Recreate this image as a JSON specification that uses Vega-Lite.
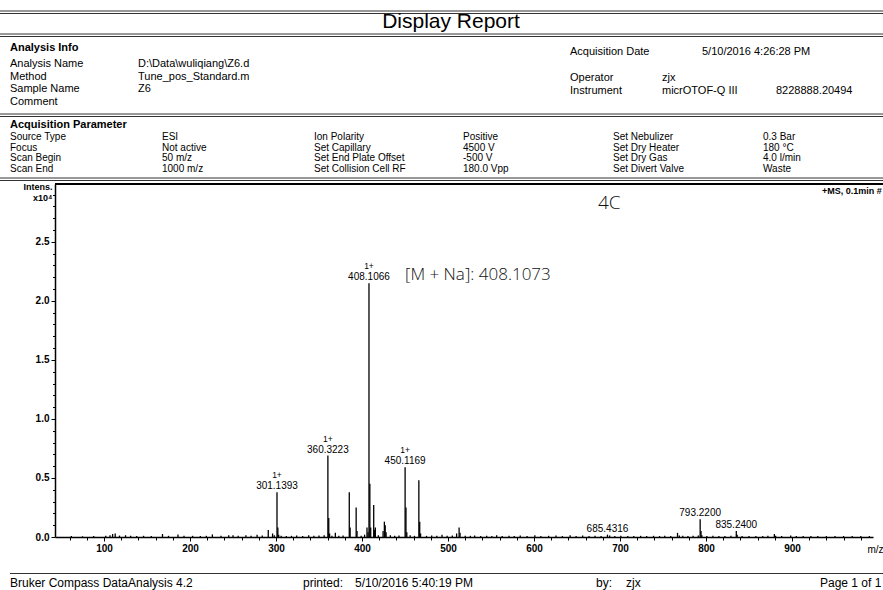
{
  "$schema": "https://vega.github.io/schema/vega-lite/v6.json",
  "autosize": {"type": "none"},
  "width": 818,
  "height": 353,
  "padding": {"left": 55, "top": 184, "right": 10, "bottom": 53},
  "background": "white",
  "config": {
    "view": {"stroke": null},
    "font": "Liberation Sans",
    "text": {"color": "black", "font": "Liberation Sans"}
  },
  "datasets": {
    "peaks": [
      {"mz": 62, "intensity": 0.008}, {"mz": 75, "intensity": 0.006}, {"mz": 88, "intensity": 0.008},
      {"mz": 102, "intensity": 0.01}, {"mz": 107, "intensity": 0.015}, {"mz": 110, "intensity": 0.025},
      {"mz": 113, "intensity": 0.03}, {"mz": 118, "intensity": 0.012}, {"mz": 125, "intensity": 0.015},
      {"mz": 131, "intensity": 0.01}, {"mz": 138, "intensity": 0.008}, {"mz": 146, "intensity": 0.01},
      {"mz": 155, "intensity": 0.008}, {"mz": 168, "intensity": 0.025}, {"mz": 175, "intensity": 0.01},
      {"mz": 186, "intensity": 0.022}, {"mz": 193, "intensity": 0.01}, {"mz": 203, "intensity": 0.01},
      {"mz": 212, "intensity": 0.008}, {"mz": 219, "intensity": 0.01}, {"mz": 226, "intensity": 0.022},
      {"mz": 236, "intensity": 0.01}, {"mz": 245, "intensity": 0.015}, {"mz": 250, "intensity": 0.015},
      {"mz": 256, "intensity": 0.01}, {"mz": 265, "intensity": 0.015}, {"mz": 271, "intensity": 0.01},
      {"mz": 278, "intensity": 0.02}, {"mz": 284, "intensity": 0.012}, {"mz": 291, "intensity": 0.06},
      {"mz": 296, "intensity": 0.03}, {"mz": 298, "intensity": 0.015},
      {"mz": 301.1393, "intensity": 0.38, "label": "301.1393", "charge": "1+"},
      {"mz": 302.14, "intensity": 0.08}, {"mz": 303.1, "intensity": 0.02}, {"mz": 306, "intensity": 0.01},
      {"mz": 312, "intensity": 0.008}, {"mz": 318, "intensity": 0.01}, {"mz": 324, "intensity": 0.012},
      {"mz": 331, "intensity": 0.008}, {"mz": 338, "intensity": 0.015}, {"mz": 344, "intensity": 0.01},
      {"mz": 350, "intensity": 0.012}, {"mz": 356, "intensity": 0.015},
      {"mz": 360.3223, "intensity": 0.69, "label": "360.3223", "charge": "1+"},
      {"mz": 361.33, "intensity": 0.16}, {"mz": 362.3, "intensity": 0.03}, {"mz": 365, "intensity": 0.01},
      {"mz": 369, "intensity": 0.035}, {"mz": 373, "intensity": 0.01}, {"mz": 378, "intensity": 0.012},
      {"mz": 385.2, "intensity": 0.38}, {"mz": 386.2, "intensity": 0.08},
      {"mz": 393.2, "intensity": 0.25}, {"mz": 394.2, "intensity": 0.05},
      {"mz": 399, "intensity": 0.01}, {"mz": 403, "intensity": 0.02}, {"mz": 405.8, "intensity": 0.08},
      {"mz": 407, "intensity": 0.04},
      {"mz": 408.1066, "intensity": 2.15, "label": "408.1066", "charge": "1+", "note": "[M + Na]: 408.1073"},
      {"mz": 409.11, "intensity": 0.45}, {"mz": 410.1, "intensity": 0.08},
      {"mz": 413.6, "intensity": 0.27}, {"mz": 414.6, "intensity": 0.06}, {"mz": 415.5, "intensity": 0.08},
      {"mz": 419, "intensity": 0.015}, {"mz": 424.5, "intensity": 0.05}, {"mz": 426, "intensity": 0.13},
      {"mz": 427, "intensity": 0.1}, {"mz": 428, "intensity": 0.04}, {"mz": 433, "intensity": 0.015},
      {"mz": 438, "intensity": 0.01}, {"mz": 443, "intensity": 0.012},
      {"mz": 450.1169, "intensity": 0.59, "label": "450.1169", "charge": "1+"},
      {"mz": 451.12, "intensity": 0.25}, {"mz": 452.1, "intensity": 0.04}, {"mz": 456, "intensity": 0.015},
      {"mz": 461, "intensity": 0.01}, {"mz": 466.1, "intensity": 0.48}, {"mz": 467.1, "intensity": 0.13},
      {"mz": 468.1, "intensity": 0.03}, {"mz": 475, "intensity": 0.01}, {"mz": 481, "intensity": 0.012},
      {"mz": 487, "intensity": 0.01}, {"mz": 493, "intensity": 0.02}, {"mz": 499, "intensity": 0.01},
      {"mz": 505, "intensity": 0.012}, {"mz": 510, "intensity": 0.03}, {"mz": 512.9, "intensity": 0.08},
      {"mz": 514, "intensity": 0.035}, {"mz": 520, "intensity": 0.01}, {"mz": 526, "intensity": 0.01},
      {"mz": 531, "intensity": 0.012}, {"mz": 538, "intensity": 0.008}, {"mz": 545, "intensity": 0.01},
      {"mz": 551, "intensity": 0.008}, {"mz": 556.6, "intensity": 0.015}, {"mz": 563, "intensity": 0.008},
      {"mz": 571, "intensity": 0.01}, {"mz": 577, "intensity": 0.008}, {"mz": 584, "intensity": 0.012},
      {"mz": 592, "intensity": 0.008}, {"mz": 601, "intensity": 0.015}, {"mz": 608, "intensity": 0.008},
      {"mz": 617, "intensity": 0.01}, {"mz": 625.6, "intensity": 0.012}, {"mz": 633, "intensity": 0.008},
      {"mz": 642, "intensity": 0.015}, {"mz": 649, "intensity": 0.008}, {"mz": 656.6, "intensity": 0.013},
      {"mz": 664, "intensity": 0.008}, {"mz": 671, "intensity": 0.01}, {"mz": 678, "intensity": 0.008},
      {"mz": 685.4316, "intensity": 0.02, "label": "685.4316"},
      {"mz": 688, "intensity": 0.012}, {"mz": 694, "intensity": 0.008}, {"mz": 701, "intensity": 0.01},
      {"mz": 709, "intensity": 0.008}, {"mz": 716, "intensity": 0.008}, {"mz": 724, "intensity": 0.01},
      {"mz": 731, "intensity": 0.008}, {"mz": 739, "intensity": 0.01}, {"mz": 746, "intensity": 0.008},
      {"mz": 752, "intensity": 0.01}, {"mz": 759, "intensity": 0.008}, {"mz": 766.9, "intensity": 0.035},
      {"mz": 769, "intensity": 0.012}, {"mz": 773, "intensity": 0.01}, {"mz": 779, "intensity": 0.008},
      {"mz": 785, "intensity": 0.01}, {"mz": 791, "intensity": 0.012},
      {"mz": 793.22, "intensity": 0.15, "label": "793.2200"},
      {"mz": 794.22, "intensity": 0.05}, {"mz": 795.2, "intensity": 0.015}, {"mz": 801, "intensity": 0.008},
      {"mz": 808, "intensity": 0.01}, {"mz": 815, "intensity": 0.008}, {"mz": 822, "intensity": 0.008},
      {"mz": 829, "intensity": 0.01},
      {"mz": 835.24, "intensity": 0.05, "label": "835.2400"},
      {"mz": 836.24, "intensity": 0.02}, {"mz": 842, "intensity": 0.008}, {"mz": 850, "intensity": 0.008},
      {"mz": 858, "intensity": 0.008}, {"mz": 866, "intensity": 0.008}, {"mz": 872, "intensity": 0.01},
      {"mz": 879.5, "intensity": 0.025}, {"mz": 881, "intensity": 0.01}, {"mz": 888, "intensity": 0.008},
      {"mz": 898.5, "intensity": 0.012}, {"mz": 905, "intensity": 0.008}, {"mz": 913, "intensity": 0.008},
      {"mz": 922, "intensity": 0.008}, {"mz": 930, "intensity": 0.008}, {"mz": 940, "intensity": 0.008},
      {"mz": 950, "intensity": 0.008}, {"mz": 960, "intensity": 0.008}, {"mz": 970, "intensity": 0.008},
      {"mz": 980, "intensity": 0.008}, {"mz": 990, "intensity": 0.008}
    ],
    "header": [
      {"text": "Display Report", "col": 8, "row": 2, "group": "title"},
      {"text": "Analysis Info", "col": 1, "row": 5, "group": "heading"},
      {"text": "Acquisition Parameter", "col": 1, "row": 15, "group": "heading"},
      {"text": "Analysis Name", "col": 1, "row": 7, "group": "info"},
      {"text": "D:\\Data\\wuliqiang\\Z6.d", "col": 3, "row": 7, "group": "info"},
      {"text": "Method", "col": 1, "row": 8, "group": "info"},
      {"text": "Tune_pos_Standard.m", "col": 3, "row": 8, "group": "info"},
      {"text": "Sample Name", "col": 1, "row": 10, "group": "info"},
      {"text": "Z6", "col": 3, "row": 10, "group": "info"},
      {"text": "Comment", "col": 1, "row": 12, "group": "info"},
      {"text": "Acquisition Date", "col": 10, "row": 6, "group": "info"},
      {"text": "5/10/2016 4:26:28 PM", "col": 16, "row": 6, "group": "info"},
      {"text": "Operator", "col": 10, "row": 9, "group": "info"},
      {"text": "zjx", "col": 15, "row": 9, "group": "info"},
      {"text": "Instrument", "col": 10, "row": 11, "group": "info"},
      {"text": "micrOTOF-Q III", "col": 15, "row": 11, "group": "info"},
      {"text": "8228888.20494", "col": 18, "row": 11, "group": "info"},
      {"text": "Source Type", "col": 1, "row": 16, "group": "param"},
      {"text": "ESI", "col": 4, "row": 16, "group": "param"},
      {"text": "Ion Polarity", "col": 6, "row": 16, "group": "param"},
      {"text": "Positive", "col": 9, "row": 16, "group": "param"},
      {"text": "Set Nebulizer", "col": 13, "row": 16, "group": "param"},
      {"text": "0.3 Bar", "col": 17, "row": 16, "group": "param"},
      {"text": "Focus", "col": 1, "row": 17, "group": "param"},
      {"text": "Not active", "col": 4, "row": 17, "group": "param"},
      {"text": "Set Capillary", "col": 6, "row": 17, "group": "param"},
      {"text": "4500 V", "col": 9, "row": 17, "group": "param"},
      {"text": "Set Dry Heater", "col": 13, "row": 17, "group": "param"},
      {"text": "180 °C", "col": 17, "row": 17, "group": "param"},
      {"text": "Scan Begin", "col": 1, "row": 18, "group": "param"},
      {"text": "50 m/z", "col": 4, "row": 18, "group": "param"},
      {"text": "Set End Plate Offset", "col": 6, "row": 18, "group": "param"},
      {"text": "-500 V", "col": 9, "row": 18, "group": "param"},
      {"text": "Set Dry Gas", "col": 13, "row": 18, "group": "param"},
      {"text": "4.0 l/min", "col": 17, "row": 18, "group": "param"},
      {"text": "Scan End", "col": 1, "row": 19, "group": "param"},
      {"text": "1000 m/z", "col": 4, "row": 19, "group": "param"},
      {"text": "Set Collision Cell RF", "col": 6, "row": 19, "group": "param"},
      {"text": "180.0 Vpp", "col": 9, "row": 19, "group": "param"},
      {"text": "Set Divert Valve", "col": 13, "row": 19, "group": "param"},
      {"text": "Waste", "col": 17, "row": 19, "group": "param"},
      {"text": "+MS, 0.1min #", "col": 20, "row": 23, "group": "ms"},
      {"text": "4C", "col": 12, "row": 24, "group": "hand"},
      {"text": "Bruker Compass DataAnalysis 4.2", "col": 1, "row": 26, "group": "footer"},
      {"text": "printed:", "col": 5, "row": 26, "group": "footer"},
      {"text": "5/10/2016 5:40:19 PM", "col": 7, "row": 26, "group": "footer"},
      {"text": "by:", "col": 11, "row": 26, "group": "footer"},
      {"text": "zjx", "col": 14, "row": 26, "group": "footer"},
      {"text": "Page 1 of 1", "col": 19, "row": 26, "group": "footer"}
    ],
    "rules": [
      {"row": 0, "c1": 0, "c2": 21, "kind": "sep"},
      {"row": 1, "c1": 0, "c2": 21, "kind": "sep"},
      {"row": 3, "c1": 0, "c2": 21, "kind": "sep"},
      {"row": 4, "c1": 0, "c2": 21, "kind": "sep"},
      {"row": 13, "c1": 0, "c2": 21, "kind": "sep"},
      {"row": 14, "c1": 0, "c2": 21, "kind": "sep"},
      {"row": 20, "c1": 0, "c2": 21, "kind": "sep"},
      {"row": 21, "c1": 0, "c2": 21, "kind": "sep"},
      {"row": 22, "c1": 2, "c2": 21, "kind": "frame"},
      {"row": 25, "c1": 1, "c2": 21, "kind": "sep"}
    ]
  },
  "layer": [
    {
      "data": {"name": "peaks"},
      "layer": [
        {
          "mark": {"type": "rule", "color": "black", "strokeWidth": 1.3},
          "encoding": {
            "x": {
              "field": "mz", "type": "quantitative",
              "scale": {"domain": [43, 994.2], "nice": false, "zero": false},
              "axis": {
                "values": [60, 80, 100, 120, 140, 160, 180, 200, 220, 240, 260, 280, 300, 320, 340, 360, 380, 400, 420, 440, 460, 480, 500, 520, 540, 560, 580, 600, 620, 640, 660, 680, 700, 720, 740, 760, 780, 800, 820, 840, 860, 880, 900, 920, 940, 960, 980],
                "tickCount": 200,
                "labelExpr": "datum.value % 100 === 0 ? datum.label : ''",
                "labelOverlap": false,
                "format": "d",
                "tickSize": {"condition": {"test": "datum.value % 100 === 0", "value": 4}, "value": 3},
                "tickWidth": 1,
                "grid": false,
                "domainColor": "black", "domainWidth": 1.3,
                "tickColor": "black",
                "labelColor": "black", "labelFont": "Liberation Sans", "labelFontSize": 10, "labelFontWeight": "bold", "labelPadding": 2,
                "title": "m/z", "titleX": 812, "titleY": 12, "titleAlign": "left", "titleBaseline": "middle",
                "titleFontWeight": "normal", "titleFontSize": 10, "titleColor": "black", "titleFont": "Liberation Sans"
              }
            },
            "y": {
              "field": "intensity", "type": "quantitative",
              "scale": {"domain": [0, 2.99], "nice": false},
              "axis": {
                "values": [0, 0.1, 0.2, 0.3, 0.4, 0.5, 0.6, 0.7, 0.8, 0.9, 1.0, 1.1, 1.2, 1.3, 1.4, 1.5, 1.6, 1.7, 1.8, 1.9, 2.0, 2.1, 2.2, 2.3, 2.4, 2.5, 2.6, 2.7, 2.8, 2.9],
                "tickCount": 200,
                "labelExpr": "round(datum.value * 10) % 5 === 0 ? format(datum.value, '.1f') : ''",
                "labelOverlap": false,
                "tickSize": {"condition": {"test": "round(datum.value * 10) % 5 === 0", "value": 4}, "value": 2.5},
                "tickWidth": 1,
                "grid": false,
                "domainColor": "black", "domainWidth": 1.5,
                "tickColor": "black",
                "labelColor": "black", "labelFont": "Liberation Sans", "labelFontSize": 10, "labelFontWeight": "bold", "labelPadding": 2,
                "title": ["Intens.", "x10⁴"], "titleAngle": 0, "titleAlign": "right", "titleBaseline": "top",
                "titleX": -3, "titleY": -2, "titleFontSize": 9, "titleFontWeight": "bold", "titleLineHeight": 11,
                "titleColor": "black", "titleFont": "Liberation Sans"
              }
            },
            "y2": {"datum": 0}
          }
        },
        {
          "transform": [{"filter": "isValid(datum.label)"}],
          "mark": {"type": "text", "baseline": "bottom", "dy": -1, "fontSize": 10, "color": "black"},
          "encoding": {
            "x": {"field": "mz", "type": "quantitative"},
            "y": {"field": "intensity", "type": "quantitative"},
            "text": {"field": "label"}
          }
        },
        {
          "transform": [{"filter": "isValid(datum.charge)"}],
          "mark": {"type": "text", "baseline": "bottom", "dy": -12, "fontSize": 8.5, "color": "black"},
          "encoding": {
            "x": {"field": "mz", "type": "quantitative"},
            "y": {"field": "intensity", "type": "quantitative"},
            "text": {"field": "charge"}
          }
        },
        {
          "transform": [{"filter": "isValid(datum.note)"}],
          "mark": {"type": "text", "align": "left", "baseline": "middle", "dx": 36, "dy": -8, "fontSize": 17, "font": "Open Sans", "fontWeight": 300, "color": "#111"},
          "encoding": {
            "x": {"field": "mz", "type": "quantitative"},
            "y": {"field": "intensity", "type": "quantitative"},
            "text": {"field": "note"}
          }
        }
      ]
    },
    {
      "layer": [
        {
          "data": {"name": "rules"},
          "transform": [{"filter": "datum.kind === 'sep'"}],
          "mark": {"type": "rule", "color": "#333", "strokeWidth": 1},
          "encoding": {
            "x": {"field": "c1", "type": "quantitative", "axis": null,
                  "scale": {"domain": [0, 1, 2, 3, 4, 5, 6, 7, 8, 9, 10, 11, 12, 13, 14, 15, 16, 17, 18, 19, 20, 21],
                            "range": [-55, -45, 0, 83, 107, 248, 259, 300, 396, 408, 515, 541, 543, 558, 571, 607, 647, 708, 721, 765, 767, 828],
                            "nice": false, "zero": false}},
            "x2": {"field": "c2"},
            "y": {"field": "row", "type": "quantitative", "axis": null,
                  "scale": {"domain": [0, 1, 2, 3, 4, 5, 6, 7, 8, 9, 10, 11, 12, 13, 14, 15, 16, 17, 18, 19, 20, 21, 22, 23, 24, 25, 26],
                            "range": [-173, -170.5, -162, -150, -147.5, -136, -132, -120, -107.5, -106, -95, -93, -82.5, -70, -67.5, -59, -47, -36.5, -26, -15.5, -6, -3.5, 0, 7, 19, 389.5, 399],
                            "nice": false, "zero": false}}
          }
        },
        {
          "data": {"name": "rules"},
          "transform": [{"filter": "datum.kind === 'frame'"}],
          "mark": {"type": "rule", "color": "black", "strokeWidth": 2},
          "encoding": {
            "x": {"field": "c1", "type": "quantitative", "axis": null},
            "x2": {"field": "c2"},
            "y": {"field": "row", "type": "quantitative", "axis": null}
          }
        },
        {
          "data": {"name": "header"},
          "transform": [{"filter": "datum.group === 'title'"}],
          "mark": {"type": "text", "align": "center", "baseline": "middle", "fontSize": 21, "color": "black"},
          "encoding": {
            "x": {"field": "col", "type": "quantitative", "axis": null},
            "y": {"field": "row", "type": "quantitative", "axis": null},
            "text": {"field": "text"}
          }
        },
        {
          "data": {"name": "header"},
          "transform": [{"filter": "datum.group === 'heading'"}],
          "mark": {"type": "text", "align": "left", "baseline": "middle", "fontSize": 11, "fontWeight": "bold", "color": "black"},
          "encoding": {
            "x": {"field": "col", "type": "quantitative", "axis": null},
            "y": {"field": "row", "type": "quantitative", "axis": null},
            "text": {"field": "text"}
          }
        },
        {
          "data": {"name": "header"},
          "transform": [{"filter": "datum.group === 'info'"}],
          "mark": {"type": "text", "align": "left", "baseline": "middle", "fontSize": 11, "color": "black"},
          "encoding": {
            "x": {"field": "col", "type": "quantitative", "axis": null},
            "y": {"field": "row", "type": "quantitative", "axis": null},
            "text": {"field": "text"}
          }
        },
        {
          "data": {"name": "header"},
          "transform": [{"filter": "datum.group === 'param'"}],
          "mark": {"type": "text", "align": "left", "baseline": "middle", "fontSize": 10, "color": "black"},
          "encoding": {
            "x": {"field": "col", "type": "quantitative", "axis": null},
            "y": {"field": "row", "type": "quantitative", "axis": null},
            "text": {"field": "text"}
          }
        },
        {
          "data": {"name": "header"},
          "transform": [{"filter": "datum.group === 'footer'"}],
          "mark": {"type": "text", "align": "left", "baseline": "middle", "fontSize": 12, "color": "black"},
          "encoding": {
            "x": {"field": "col", "type": "quantitative", "axis": null},
            "y": {"field": "row", "type": "quantitative", "axis": null},
            "text": {"field": "text"}
          }
        },
        {
          "data": {"name": "header"},
          "transform": [{"filter": "datum.group === 'ms'"}],
          "mark": {"type": "text", "align": "left", "baseline": "middle", "fontSize": 9, "fontWeight": "bold", "color": "black"},
          "encoding": {
            "x": {"field": "col", "type": "quantitative", "axis": null},
            "y": {"field": "row", "type": "quantitative", "axis": null},
            "text": {"field": "text"}
          }
        },
        {
          "data": {"name": "header"},
          "transform": [{"filter": "datum.group === 'hand'"}],
          "mark": {"type": "text", "align": "left", "baseline": "middle", "fontSize": 19, "font": "Open Sans", "fontWeight": 300, "color": "#111"},
          "encoding": {
            "x": {"field": "col", "type": "quantitative", "axis": null},
            "y": {"field": "row", "type": "quantitative", "axis": null},
            "text": {"field": "text"}
          }
        }
      ]
    }
  ],
  "resolve": {"scale": {"x": "independent", "y": "independent"}, "axis": {"x": "independent", "y": "independent"}}
}
